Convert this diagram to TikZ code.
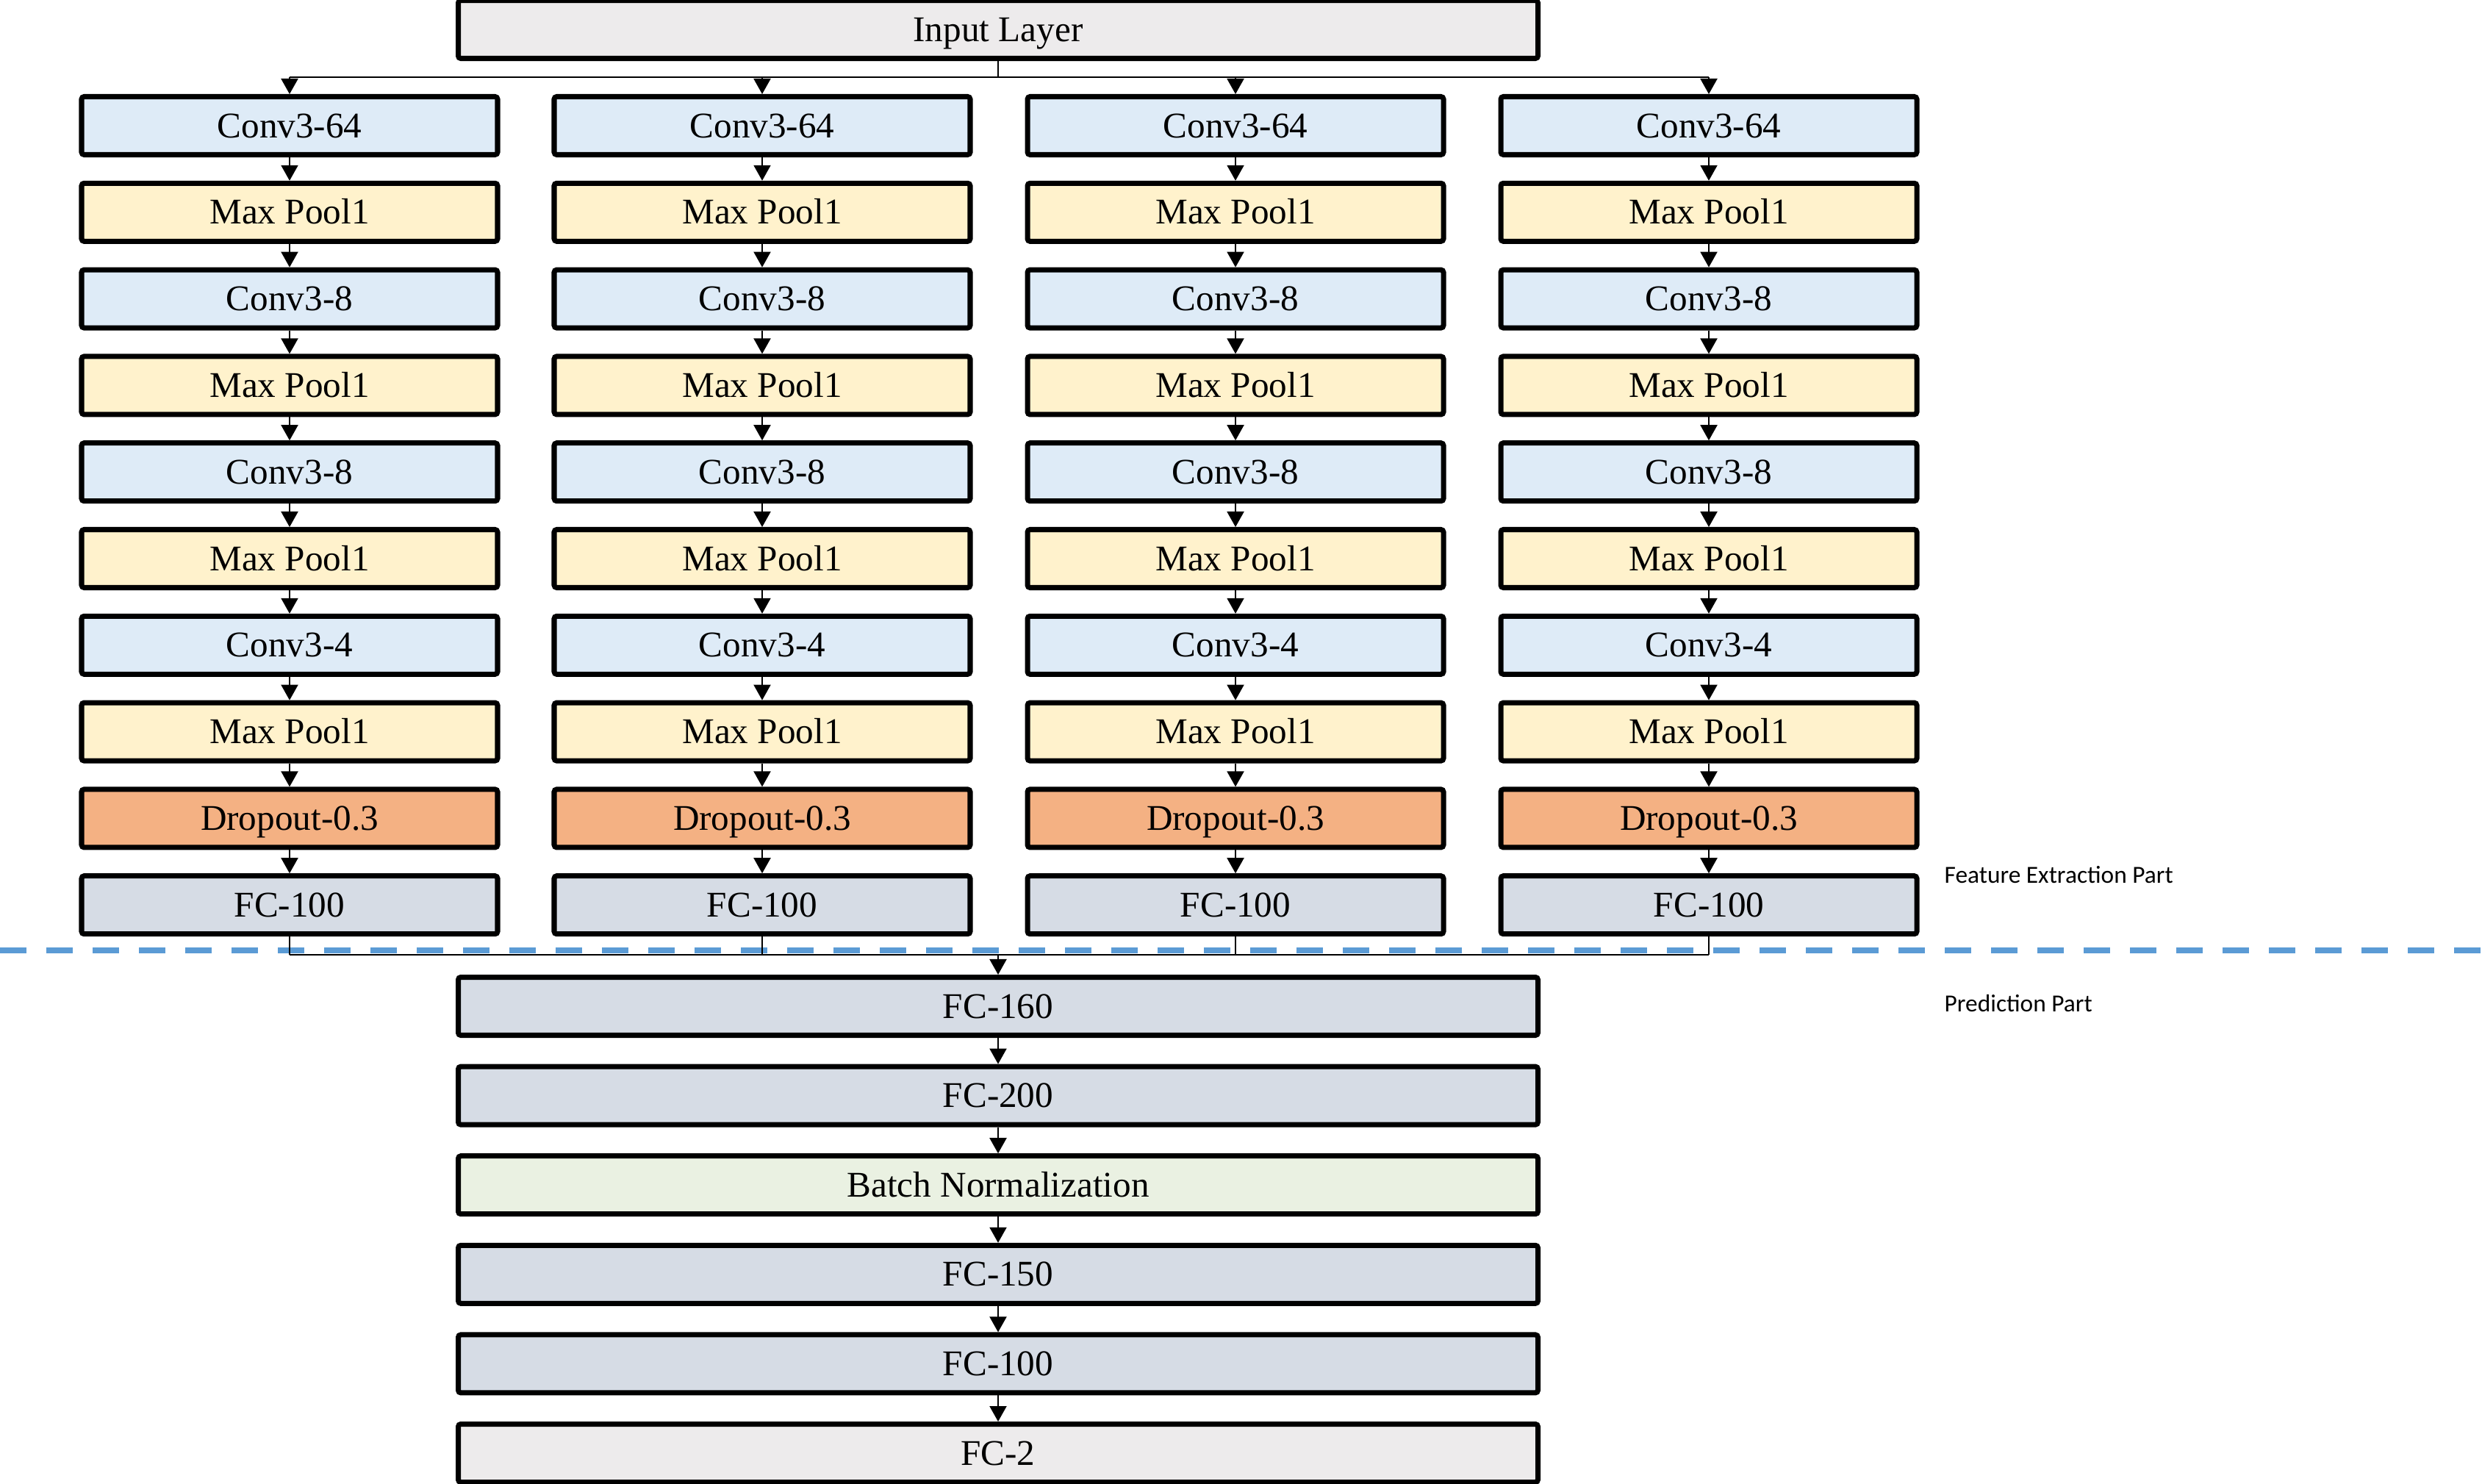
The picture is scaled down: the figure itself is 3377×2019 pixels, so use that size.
\documentclass[tikz,border=0pt]{standalone}
\usepackage{fontspec}
\setmainfont{Liberation Serif}
\newfontfamily\partfont{Carlito}
\usetikzlibrary{arrows.meta}

\definecolor{inputgray}{HTML}{EDEBEC}
\definecolor{convblue}{HTML}{DEEBF7}
\definecolor{poolyellow}{HTML}{FFF2CC}
\definecolor{droporange}{HTML}{F4B183}
\definecolor{fcgray}{HTML}{D6DCE5}
\definecolor{bngreen}{HTML}{EAF1E2}
\definecolor{splitblue}{HTML}{5B9BD5}

\tikzset{
  layer/.style={draw=black, line width=2pt, rounded corners=1pt, inner sep=0pt,
    minimum height=0.79cm, text height=9.2pt, text depth=0pt,
    font=\fontsize{14}{16}\selectfont},
  narrow/.style={layer, minimum width=5.66cm},
  wide/.style={layer, minimum width=14.69cm},
  link/.style={line width=0.6pt, -{Triangle[length=0.21cm,width=0.23cm]}},
  bus/.style={line width=0.6pt},
  partlabel/.style={anchor=west, inner sep=0pt, font=\partfont\fontsize{9.5}{11}\selectfont},
}

\begin{document}
\begin{tikzpicture}[x=0.1mm, y=-0.1mm]
\useasboundingbox (0,0) rectangle (3377,2019);

% separation line
\draw[splitblue, line width=0.8mm, dash pattern=on 3.6mm off 2.7mm] (0,1293)--(3377,1293);
\node[partlabel] (featpart) at (2645,1190) {Feature Extraction Part};
\node[partlabel] (predpart) at (2645,1365) {Prediction Part};

\node[wide, fill=inputgray] (input) at (1358,40) {Input Layer};
\coordinate (topbus) at (1358,105);
\coordinate (botbus) at (1358,1299);

% four branches
\foreach \col/\x in {1/394, 2/1037, 3/1681, 4/2325} {
  \node[narrow, fill=convblue] (conva\col) at (\x,171) {Conv3-64};
  \node[narrow, fill=poolyellow] (poola\col) at (\x,288.8) {Max Pool1};
  \node[narrow, fill=convblue] (convb\col) at (\x,406.6) {Conv3-8};
  \node[narrow, fill=poolyellow] (poolb\col) at (\x,524.4) {Max Pool1};
  \node[narrow, fill=convblue] (convc\col) at (\x,642.2) {Conv3-8};
  \node[narrow, fill=poolyellow] (poolc\col) at (\x,760) {Max Pool1};
  \node[narrow, fill=convblue] (convd\col) at (\x,877.8) {Conv3-4};
  \node[narrow, fill=poolyellow] (poold\col) at (\x,995.6) {Max Pool1};
  \node[narrow, fill=droporange] (drop\col) at (\x,1113.4) {Dropout-0.3};
  \node[narrow, fill=fcgray] (fc\col) at (\x,1231.2) {FC-100};
  \foreach \a/\b in {conva/poola, poola/convb, convb/poolb, poolb/convc, convc/poolc,
                     poolc/convd, convd/poold, poold/drop, drop/fc}
    \draw[link] (\a\col.south) -- (\b\col.north);
  \draw[link] (conva\col.north |- topbus) -- (conva\col.north);
  \draw[bus] (fc\col.south) -- (fc\col.south |- botbus);
}

\draw[bus] (input.south) -- (topbus);
\draw[bus] (conva1.north |- topbus) -- (conva4.north |- topbus);
\draw[bus] (fc1.south |- botbus) -- (fc4.south |- botbus);

% prediction part
\node[wide, fill=fcgray] (fc160) at (1358,1369) {FC-160};
\node[wide, fill=fcgray] (fc200) at (1358,1490.6) {FC-200};
\node[wide, fill=bngreen] (bn) at (1358,1612.2) {Batch Normalization};
\node[wide, fill=fcgray] (fc150) at (1358,1733.8) {FC-150};
\node[wide, fill=fcgray] (fcout100) at (1358,1855.4) {FC-100};
\node[wide, fill=inputgray] (fcout2) at (1358,1977) {FC-2};

\draw[link] (botbus) -- (fc160.north);
\draw[link] (fc160) -- (fc200);
\draw[link] (fc200) -- (bn);
\draw[link] (bn) -- (fc150);
\draw[link] (fc150) -- (fcout100);
\draw[link] (fcout100) -- (fcout2);
\end{tikzpicture}
\end{document}
